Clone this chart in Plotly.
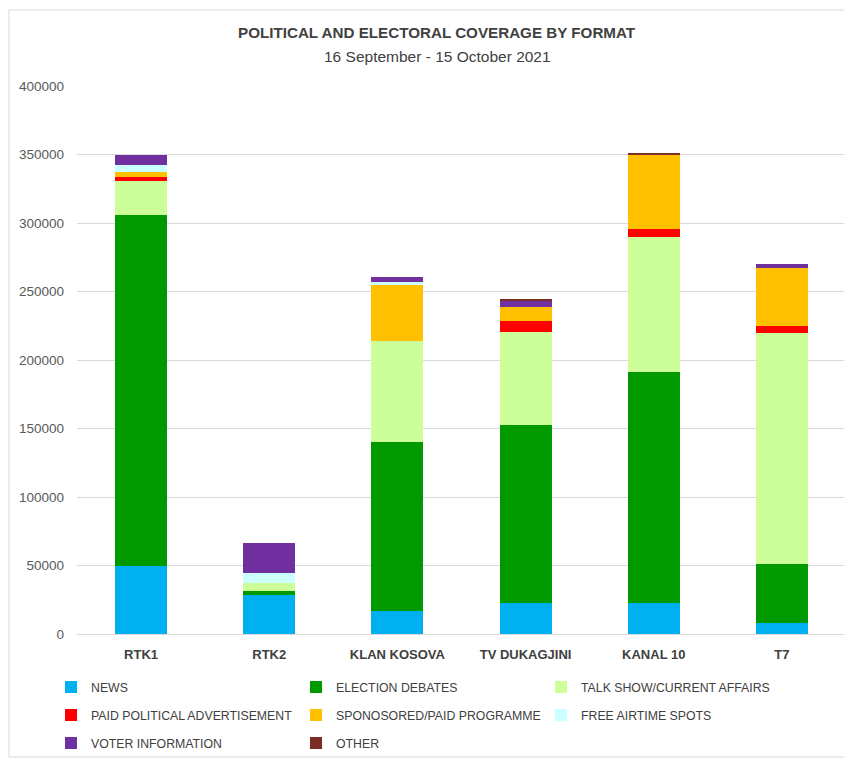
import plotly.graph_objects as go

channels = ["RTK1", "RTK2", "KLAN KOSOVA", "TV DUKAGJINI", "KANAL 10", "T7"]

news = [49600, 28200, 16600, 22500, 22500, 8200]
election_debates = [256500, 3200, 123700, 130400, 168400, 42800]
talk_show = [24300, 5600, 73700, 67400, 98800, 168400]
paid_political_ad = [3000, 0, 0, 8500, 6100, 5400]
sponsored_programme = [3900, 0, 40900, 10000, 54000, 42600]
free_airtime = [5300, 7300, 2400, 0, 0, 0]
voter_information = [7300, 21900, 3200, 4700, 0, 2500]
other = [0, 0, 0, 700, 700, 0]

series = [
    ("NEWS", news, "#00B0F0", "legend"),
    ("ELECTION DEBATES", election_debates, "#009900", "legend"),
    ("TALK SHOW/CURRENT AFFAIRS", talk_show, "#CCFF99", "legend"),
    ("PAID POLITICAL ADVERTISEMENT", paid_political_ad, "#FF0000", "legend2"),
    ("SPONOSORED/PAID PROGRAMME", sponsored_programme, "#FFC000", "legend2"),
    ("FREE AIRTIME SPOTS", free_airtime, "#CCFFFF", "legend2"),
    ("VOTER INFORMATION", voter_information, "#7030A0", "legend3"),
    ("OTHER", other, "#7B2D26", "legend3"),
]

FONT = "Liberation Sans, Arial, sans-serif"

fig = go.Figure()
for name, vals, color, lg in series:
    fig.add_trace(go.Bar(
        name=name, x=channels, y=vals, marker_color=color,
        marker_line_width=0, legend=lg,
    ))

OFF = 8  # page body margin
W, H = 852 - OFF, 760 - OFF
ml = 77 - OFF
mt = 86 - OFF
mb = H - (634 - OFF)
mr = W - (846 - OFF)
pw = W - ml - mr
ph = H - mt - mb

def px_x(x):
    return (x - OFF - ml) / pw

def px_y(y):
    return (H - mb - (y - OFF)) / ph

legend_common = dict(
    orientation="h", xanchor="left", yanchor="middle",
    entrywidth=200, entrywidthmode="pixels",
    font=dict(family=FONT, size=12.3, color="#404040"),
    bgcolor="rgba(0,0,0,0)", itemclick=False, itemdoubleclick=False,
    traceorder="normal",
)

fig.update_layout(
    width=W, height=H,
    margin=dict(l=ml, r=mr, t=mt, b=mb, autoexpand=False),
    barmode="stack",
    bargap=0.595,
    plot_bgcolor="white",
    paper_bgcolor="white",
    font=dict(family=FONT, size=13, color="#595959"),
    showlegend=True,
    legend=dict(**legend_common, x=px_x(51), y=px_y(687)),
    legend2=dict(**legend_common, x=px_x(51), y=px_y(715)),
    legend3=dict(**legend_common, x=px_x(51), y=px_y(743)),
    xaxis=dict(
        showgrid=False, showline=False, ticks="",
        tickfont=dict(family=FONT, size=13, color="#404040", weight="bold"),
        ticklabelstandoff=11,
    ),
    yaxis=dict(
        range=[0, 400000], dtick=50000, tickformat="d",
        showgrid=True, gridcolor="#D9D9D9", gridwidth=1,
        zeroline=True, zerolinecolor="#D9D9D9", zerolinewidth=1,
        showline=False, ticks="",
        tickfont=dict(family=FONT, size=13.5, color="#595959"),
        ticklabelstandoff=12,
    ),
    annotations=[
        dict(text="<b>POLITICAL AND ELECTORAL COVERAGE BY FORMAT</b>",
             xref="paper", yref="paper", x=px_x(437), y=px_y(33),
             xanchor="center", yanchor="middle", showarrow=False,
             font=dict(family=FONT, size=15.2, color="#404040")),
        dict(text="16 September - 15 October 2021",
             xref="paper", yref="paper", x=px_x(437), y=px_y(56),
             xanchor="center", yanchor="middle", showarrow=False,
             font=dict(family=FONT, size=15.5, color="#404040")),
    ],
    shapes=[
        dict(type="rect", xref="paper", yref="paper",
             x0=px_x(9), x1=px_x(847), y0=px_y(757), y1=px_y(10),
             line=dict(color="#D9D9D9", width=1), fillcolor="rgba(0,0,0,0)",
             layer="below"),
    ],
)

fig.write_html("out.html")
